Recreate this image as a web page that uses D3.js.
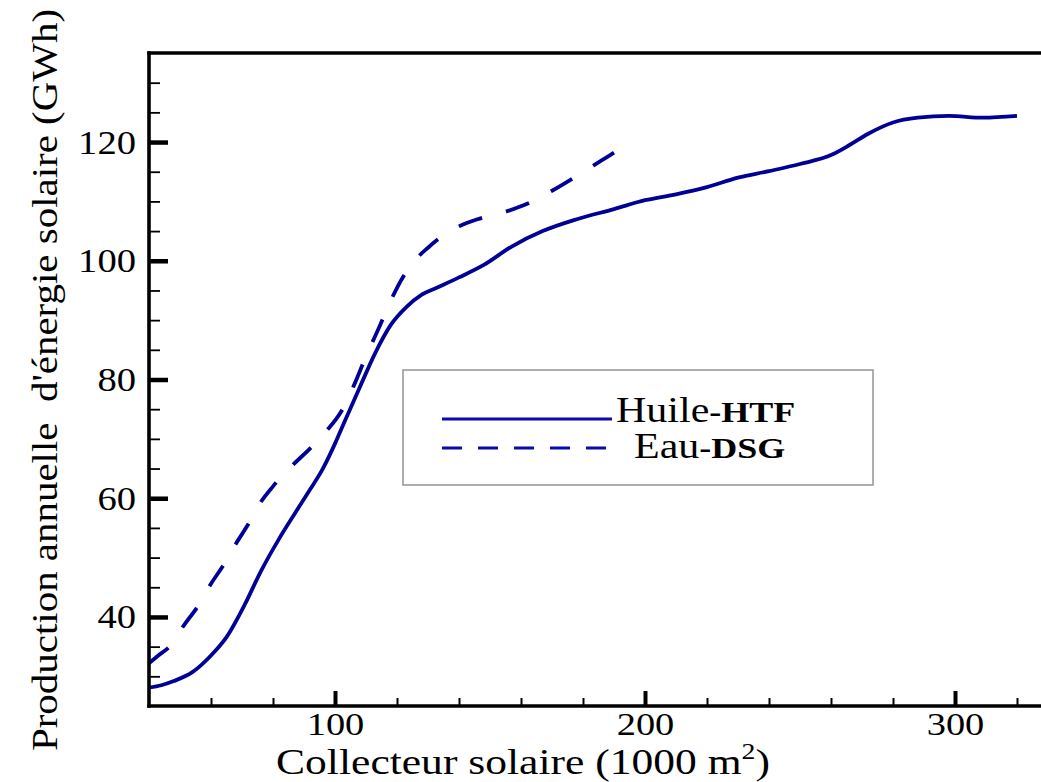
<!DOCTYPE html>
<html>
<head>
<meta charset="utf-8">
<script src="https://cdn.jsdelivr.net/npm/d3@7"></script>
<style>
  html, body { margin: 0; padding: 0; background: #fff; }
  svg { display: block; }
  text { font-family: "Liberation Serif", "Times New Roman", serif; fill: #000; }
</style>
</head>
<body>
<svg id="chart" width="1041" height="782"></svg>
<script>
// Annual solar energy production vs. collector area, oil (HTF) vs. water (DSG)
const huileX = [40, 44, 48, 54, 60, 65, 71, 76, 82, 87, 92, 96, 100, 103, 108, 113, 118, 123, 128, 133, 140, 148, 157, 167, 178, 190, 200, 210, 220, 230, 240, 250, 260, 266, 272, 280, 288, 298, 309, 320];
const huileY = [28.1, 28.5, 29.2, 30.7, 33.5, 36.6, 42.2, 47.6, 53.2, 57.4, 61.5, 64.9, 69.2, 72.8, 78.7, 84.5, 89.2, 92.2, 94.3, 95.5, 97.2, 99.3, 102.4, 105.0, 107.0, 108.7, 110.2, 111.2, 112.4, 114.0, 115.1, 116.3, 117.8, 119.5, 121.4, 123.3, 124.1, 124.4, 124.1, 124.4];

const eauX = [40, 43, 47, 51, 56, 60, 64, 68, 72, 76, 80, 86, 92, 97, 102, 106, 110, 114, 118, 122, 126, 130, 135, 140, 146, 154, 162, 170, 178, 186, 190];
const eauY = [32.2, 33.5, 35.2, 38.4, 42.0, 45.6, 48.7, 52.3, 55.6, 59.3, 62.0, 65.4, 68.4, 71.2, 74.6, 78.9, 83.9, 88.5, 93.3, 97.3, 100.2, 102.2, 104.3, 105.8, 107.0, 108.1, 109.6, 111.8, 114.3, 116.9, 118.2];

const xMajorTicks = [100, 200, 300];
const xMinorTicks = [60, 80, 120, 140, 160, 180, 220, 240, 260, 280, 320];
const yMajorTicks = [40, 60, 80, 100, 120];
const yMinorTicks = [30, 35, 45, 50, 55, 65, 70, 75, 85, 90, 95, 105, 110, 115, 125, 130];

const seriesNames = ["Huile", "Eau"];
const seriesTags = ["-HTF", "-DSG"];
const xTitle = "Collecteur solaire (1000 m";
const yTitle = "Production annuelle  d'énergie solaire (GWh)";

const lineColor = "#000096";
const stretch = 1.17;

const svg = d3.select("#chart");
const plotLeft = 149, plotTop = 53, plotBottom = 706;

const x = d3.scaleLinear().domain([40, 330]).range([plotLeft, plotLeft + 290 * 3.1]);
const y = d3.scaleLinear().domain([25, 135]).range([plotBottom, plotTop]);

// Curves
const line = d3.line().x(d => x(d[0])).y(d => y(d[1])).curve(d3.curveMonotoneX);
const huile = huileX.map((v, i) => [v, huileY[i]]);
const eau = eauX.map((v, i) => [v, eauY[i]]);

svg.append("path").datum(huile)
  .attr("d", line).attr("fill", "none")
  .attr("stroke", lineColor).attr("stroke-width", 3.8)
  .attr("stroke-linejoin", "round");

const eauPath = svg.append("path").datum(eau)
  .attr("d", line).attr("fill", "none")
  .attr("stroke", lineColor).attr("stroke-width", 3.8);
// dash period chosen so the dashed curve both starts and ends on a dash
const eauLen = eauPath.node().getTotalLength();
const nDash = Math.round((eauLen - 24) / 48);
const period = eauLen / (nDash + 0.5);
eauPath.attr("stroke-dasharray", `${period / 2},${period / 2}`);

// Axes: minor and major ticks drawn inward
function styleAxis(g, w) {
  g.select(".domain").remove();
  g.selectAll(".tick line").attr("stroke", "#000").attr("stroke-width", w);
}

svg.append("g").attr("transform", `translate(0,${plotBottom})`)
  .call(d3.axisBottom(x).tickValues(xMinorTicks).tickSize(-8).tickFormat(""))
  .call(g => styleAxis(g, 2));

const xMaj = svg.append("g").attr("transform", `translate(0,${plotBottom})`)
  .call(d3.axisBottom(x).tickValues(xMajorTicks).tickSize(-15).tickPadding(0).tickFormat(d3.format("d")))
  .call(g => styleAxis(g, 4));
xMaj.selectAll(".tick text")
  .attr("y", 0).attr("dy", null)
  .attr("transform", `translate(0,29) scale(1.2,1)`)
  .attr("font-size", 32).attr("font-family", "'Liberation Serif', serif").attr("fill", "#000");

svg.append("g").attr("transform", `translate(${plotLeft},0)`)
  .call(d3.axisLeft(y).tickValues(yMinorTicks).tickSize(-11).tickFormat(""))
  .call(g => styleAxis(g, 1.8));

const yMaj = svg.append("g").attr("transform", `translate(${plotLeft},0)`)
  .call(d3.axisLeft(y).tickValues(yMajorTicks).tickSize(-19).tickPadding(0).tickFormat(d3.format("d")))
  .call(g => styleAxis(g, 4.5));
yMaj.selectAll(".tick text")
  .attr("x", 0).attr("dy", null).attr("y", 0)
  .attr("text-anchor", "end")
  .attr("transform", `translate(-13,11) scale(${stretch},1)`)
  .attr("font-size", 33).attr("font-family", "'Liberation Serif', serif").attr("fill", "#000");

// Frame lines: left axis, bottom axis, top border
svg.append("line").attr("x1", plotLeft).attr("x2", plotLeft).attr("y1", plotTop - 1.7).attr("y2", plotBottom + 1.7)
  .attr("stroke", "#000").attr("stroke-width", 3.6);
svg.append("line").attr("x1", plotLeft - 1.7).attr("x2", 1041).attr("y1", plotBottom).attr("y2", plotBottom)
  .attr("stroke", "#000").attr("stroke-width", 3.6);
svg.append("line").attr("x1", plotLeft - 1.7).attr("x2", 1041).attr("y1", plotTop).attr("y2", plotTop)
  .attr("stroke", "#000").attr("stroke-width", 3.6);

// Axis titles
const xt = svg.append("text")
  .attr("transform", `translate(523,774) scale(1.21,1)`)
  .attr("text-anchor", "middle").attr("font-size", 36);
xt.append("tspan").text(xTitle);
xt.append("tspan").attr("font-size", 23).attr("dy", -15).text("2");
xt.append("tspan").attr("dy", 15).text(")");

svg.append("text")
  .attr("transform", `translate(57,380) rotate(-90) scale(${stretch},1)`)
  .attr("text-anchor", "middle").attr("font-size", 35)
  .style("white-space", "pre")
  .text(yTitle);

// Legend
svg.append("rect").attr("x", 403).attr("y", 370).attr("width", 470).attr("height", 115)
  .attr("fill", "#fff").attr("stroke", "#9a9a9a").attr("stroke-width", 1.6);

svg.append("line").attr("x1", 442).attr("x2", 612).attr("y1", 419).attr("y2", 419)
  .attr("stroke", "#0a0ab0").attr("stroke-width", 3);
svg.append("line").attr("x1", 442).attr("x2", 606).attr("y1", 448).attr("y2", 448)
  .attr("stroke", "#0a0ab0").attr("stroke-width", 3).attr("stroke-dasharray", "20,16");

const legendPos = [[616, 422], [634, 458]];
seriesNames.forEach((name, i) => {
  const t = svg.append("text")
    .attr("transform", `translate(${legendPos[i][0]},${legendPos[i][1]}) scale(1.2,1)`)
    .attr("font-size", 35);
  t.append("tspan").text(name);
  t.append("tspan").attr("font-size", 30).attr("font-weight", "bold").text(seriesTags[i]);
});
</script>
</body>
</html>
